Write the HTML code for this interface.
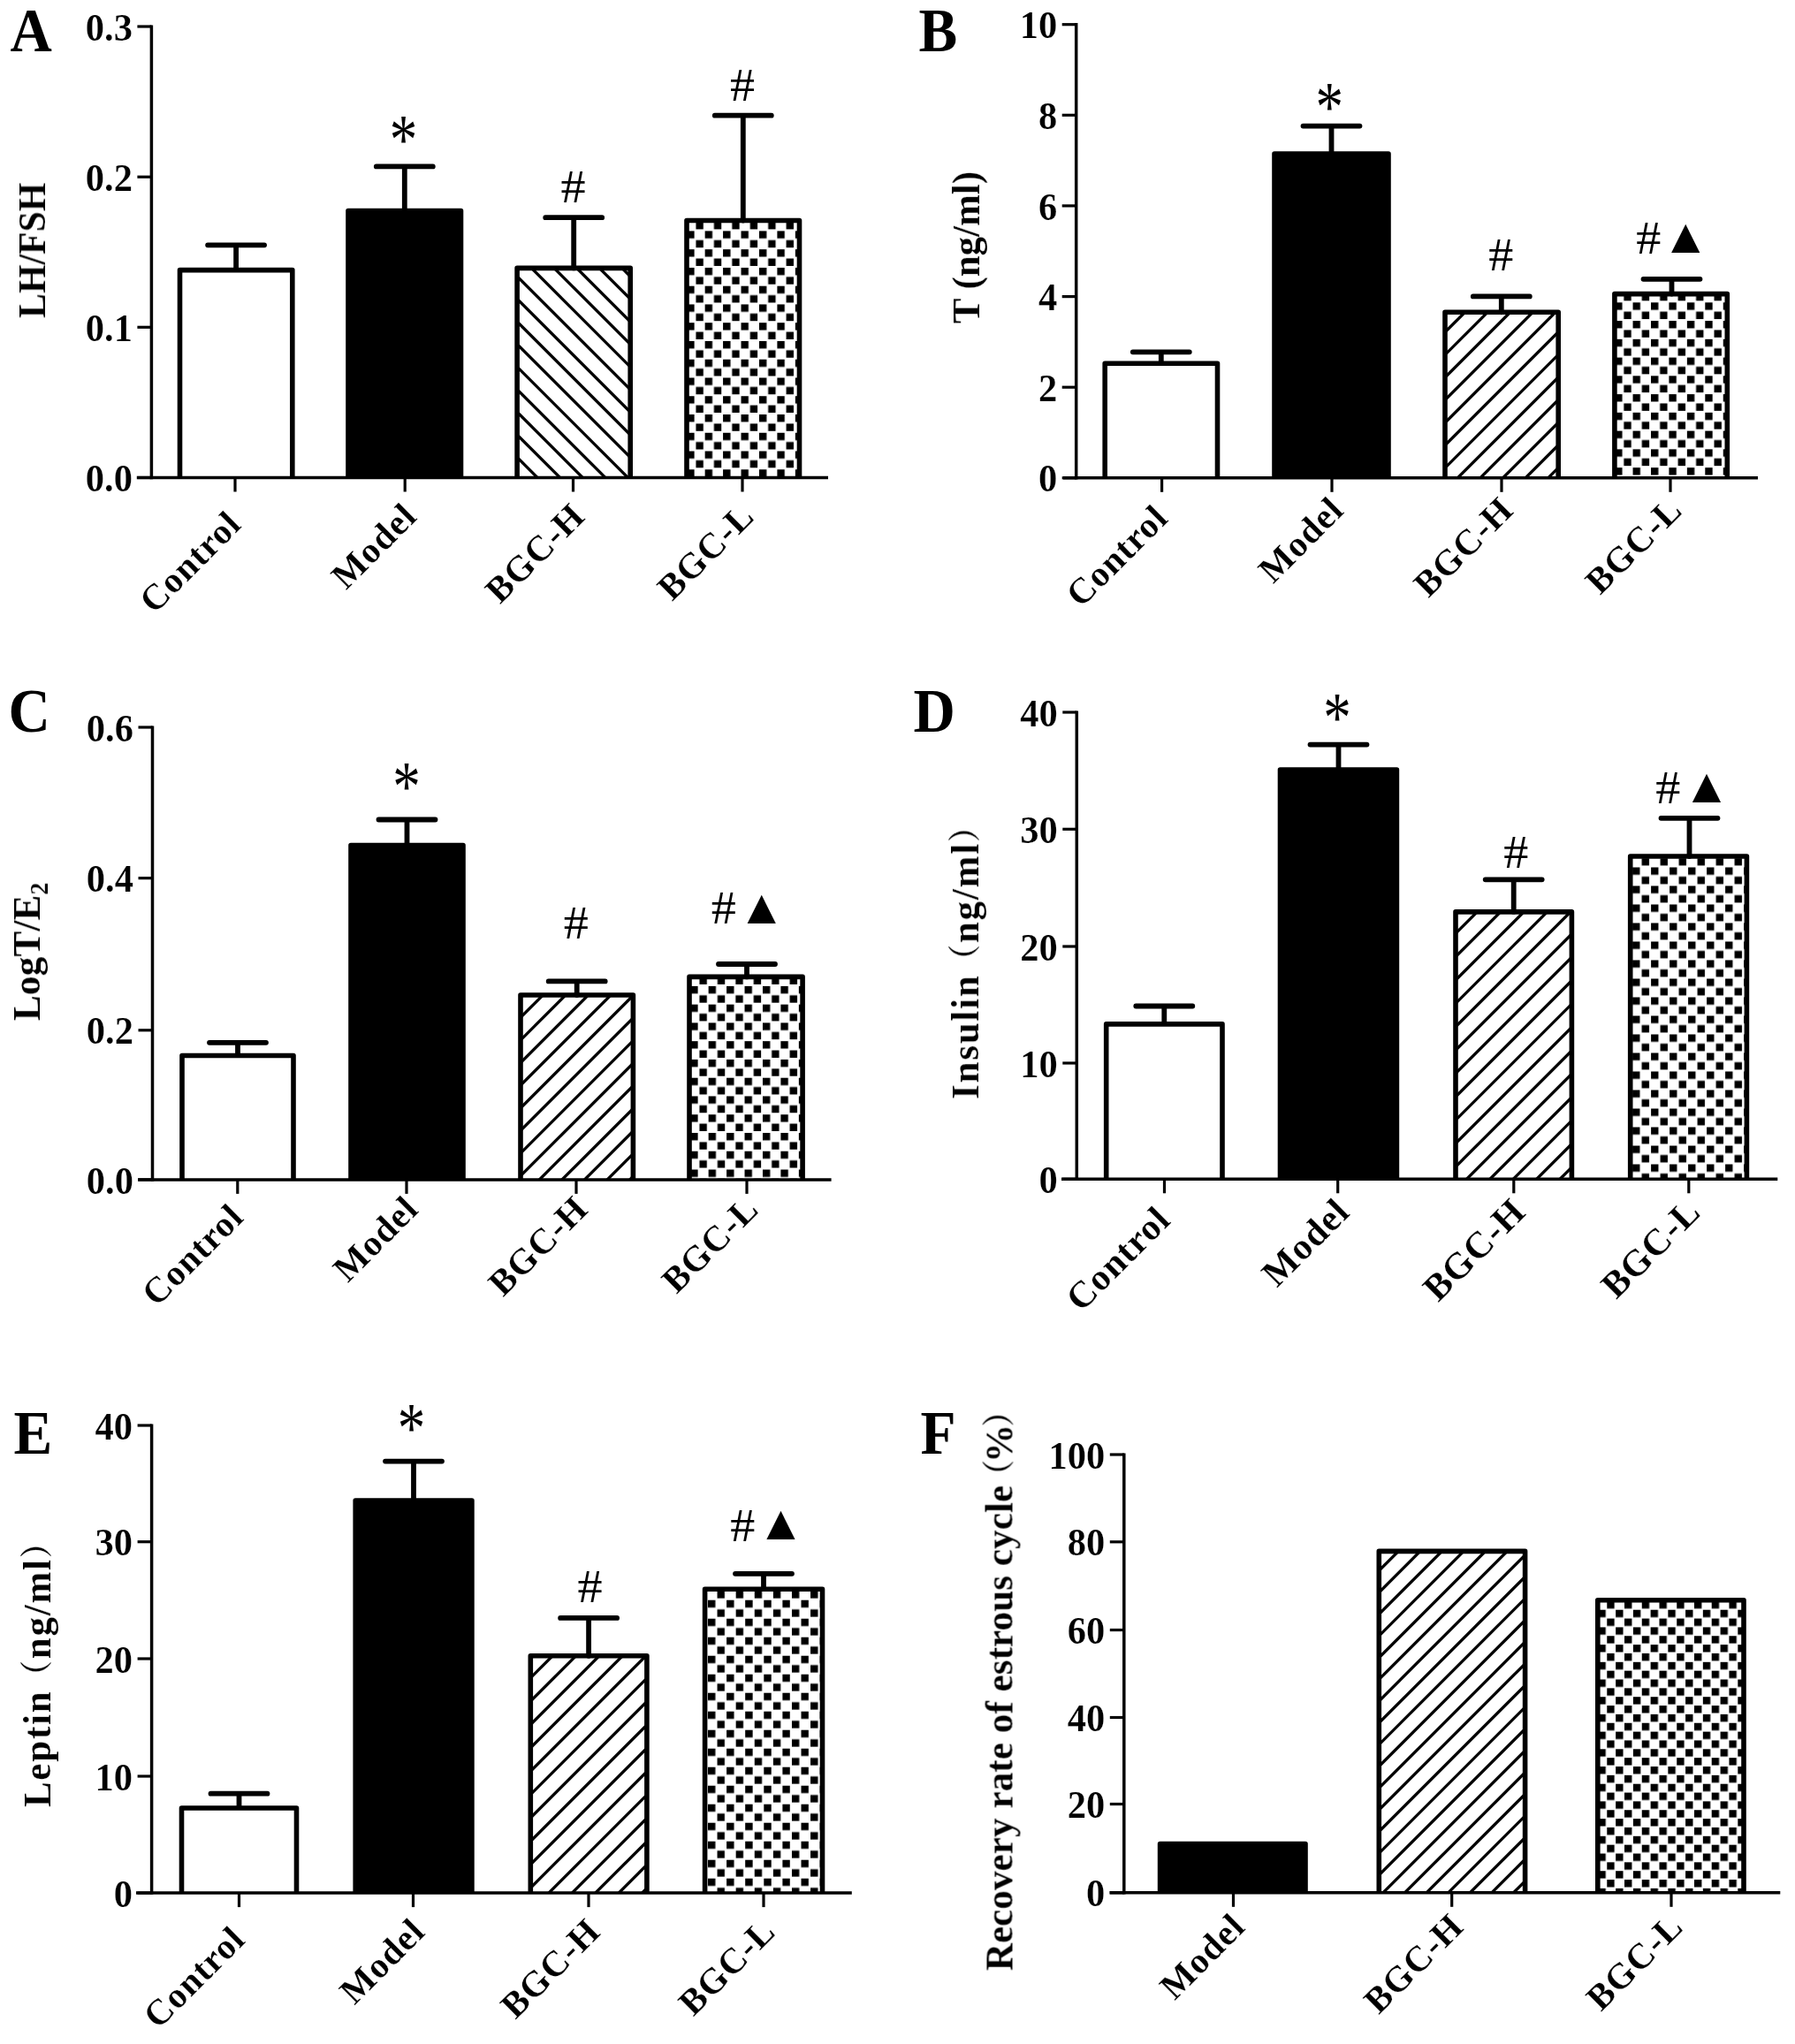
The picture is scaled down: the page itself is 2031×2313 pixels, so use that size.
<!DOCTYPE html>
<html lang="en"><head><meta charset="utf-8"><title>Figure</title>
<style>
html,body{margin:0;padding:0;background:#fff;}
body{width:2031px;height:2313px;overflow:hidden;}
svg{display:block;}
</style></head><body>
<svg width="2031" height="2313" viewBox="0 0 2031 2313" font-family='"Liberation Serif", "Noto Serif CJK SC", serif' fill="#000"><defs><filter id="soft" filterUnits="userSpaceOnUse" x="0" y="0" width="2031" height="2313"><feGaussianBlur stdDeviation="0.7"/></filter></defs><rect width="2031" height="2313" fill="#fff"/><g filter="url(#soft)"><g><text x="0" y="0" font-size="69" font-weight="bold" transform="translate(11.5 57.5) scale(0.95 1)">A</text><path d="M267.1 305.6V277.3M235.1 277.3H299.1" stroke="#000" stroke-width="5.80" stroke-linecap="round" fill="none"/><path d="M203.5 540.5V305.6H330.8V540.5" fill="#fff" stroke="#000" stroke-width="5.60" stroke-linejoin="round"/><path d="M457.8 238.5V188.4M425.8 188.4H489.8" stroke="#000" stroke-width="5.80" stroke-linecap="round" fill="none"/><path d="M394.0 540.5V238.5H521.5V540.5" fill="#000" stroke="#000" stroke-width="5.60" stroke-linejoin="round"/><path d="M649.2 303.4V246.2M617.2 246.2H681.2" stroke="#000" stroke-width="5.80" stroke-linecap="round" fill="none"/><clipPath id="c1"><rect x="585.1" y="303.4" width="128.1" height="237.1"/></clipPath><g clip-path="url(#c1)" stroke="#000" stroke-width="3.30"><line x1="580.1" y1="538.1" x2="718.2" y2="676.2"/><line x1="580.1" y1="512.5" x2="718.2" y2="650.6"/><line x1="580.1" y1="486.9" x2="718.2" y2="625.0"/><line x1="580.1" y1="461.3" x2="718.2" y2="599.4"/><line x1="580.1" y1="435.7" x2="718.2" y2="573.8"/><line x1="580.1" y1="410.1" x2="718.2" y2="548.2"/><line x1="580.1" y1="384.5" x2="718.2" y2="522.6"/><line x1="580.1" y1="358.9" x2="718.2" y2="497.0"/><line x1="580.1" y1="333.3" x2="718.2" y2="471.4"/><line x1="580.1" y1="307.7" x2="718.2" y2="445.8"/><line x1="580.1" y1="282.1" x2="718.2" y2="420.2"/><line x1="580.1" y1="256.5" x2="718.2" y2="394.6"/><line x1="580.1" y1="230.9" x2="718.2" y2="369.0"/><line x1="580.1" y1="205.3" x2="718.2" y2="343.4"/><line x1="580.1" y1="179.7" x2="718.2" y2="317.8"/><line x1="580.1" y1="154.1" x2="718.2" y2="292.2"/></g><path d="M585.1 540.5V303.4H713.2V540.5" fill="none" stroke="#000" stroke-width="5.60" stroke-linejoin="round"/><path d="M840.8 249.5V130.7M808.8 130.7H872.8" stroke="#000" stroke-width="5.80" stroke-linecap="round" fill="none"/><pattern id="p1" patternUnits="userSpaceOnUse" x="777.20" y="261.40" width="20.44" height="20.76"><rect x="0" y="0" width="8.40" height="8.40" fill="#000"/><rect x="10.22" y="10.38" width="8.40" height="8.40" fill="#000"/></pattern><rect x="777.0" y="249.5" width="127.5" height="291.0" fill="url(#p1)"/><path d="M777.0 540.5V249.5H904.5V540.5" fill="none" stroke="#000" stroke-width="5.60" stroke-linejoin="round"/><path d="M171.4 28.4V542.2" stroke="#000" stroke-width="3.50" fill="none"/><path d="M154.8 540.5H937.0" stroke="#000" stroke-width="3.50" fill="none"/><path d="M155.4 30.0H171.4" stroke="#000" stroke-width="3.20"/><text x="0" y="0" font-size="44.3" font-weight="bold" text-anchor="end" stroke="#fff" stroke-width="0.2" transform="translate(149.9 45.6) scale(0.96 1)">0.3</text><path d="M155.4 200.2H171.4" stroke="#000" stroke-width="3.20"/><text x="0" y="0" font-size="44.3" font-weight="bold" text-anchor="end" stroke="#fff" stroke-width="0.2" transform="translate(149.9 215.8) scale(0.96 1)">0.2</text><path d="M155.4 370.3H171.4" stroke="#000" stroke-width="3.20"/><text x="0" y="0" font-size="44.3" font-weight="bold" text-anchor="end" stroke="#fff" stroke-width="0.2" transform="translate(149.9 385.9) scale(0.96 1)">0.1</text><path d="M155.4 540.5H171.4" stroke="#000" stroke-width="3.20"/><text x="0" y="0" font-size="44.3" font-weight="bold" text-anchor="end" stroke="#fff" stroke-width="0.2" transform="translate(149.9 556.1) scale(0.96 1)">0.0</text><path d="M266.0 540.5V556.5" stroke="#000" stroke-width="3.20"/><text x="275.0" y="595.3" font-size="41" font-weight="bold" text-anchor="end" stroke="#fff" stroke-width="0.2" transform="rotate(-45 275.0 595.3)" letter-spacing="0.9">Control</text><path d="M458.2 540.5V556.5" stroke="#000" stroke-width="3.20"/><text x="473.7" y="586.3" font-size="41" font-weight="bold" text-anchor="end" stroke="#fff" stroke-width="0.2" transform="rotate(-45 473.7 586.3)" letter-spacing="0.9">Model</text><path d="M648.5 540.5V556.5" stroke="#000" stroke-width="3.20"/><text x="664.0" y="586.3" font-size="41" font-weight="bold" text-anchor="end" stroke="#fff" stroke-width="0.2" transform="rotate(-45 664.0 586.3)" letter-spacing="0.9">BGC-H</text><path d="M840.0 540.5V556.5" stroke="#000" stroke-width="3.20"/><text x="855.5" y="586.3" font-size="41" font-weight="bold" text-anchor="end" stroke="#fff" stroke-width="0.2" transform="rotate(-45 855.5 586.3)" letter-spacing="0.9">BGC-L</text><text x="0" y="0" font-size="45" font-weight="bold" text-anchor="middle" stroke="#fff" stroke-width="0.2" transform="translate(51.0 283.3) rotate(-90) scale(0.93 1)">LH/FSH</text><text x="0" y="0" font-size="63" font-weight="normal" text-anchor="middle" transform="translate(456.4 184.5) scale(1 1.28)">*</text><text x="648.5" y="229.2" font-size="53" font-weight="normal" text-anchor="middle" transform="translate(648.5 0) scale(1.06 1) translate(-648.5 0)">#</text><text x="840.0" y="114.2" font-size="53" font-weight="normal" text-anchor="middle" transform="translate(840.0 0) scale(1.06 1) translate(-840.0 0)">#</text></g>
<g><text x="0" y="0" font-size="69" font-weight="bold" transform="translate(1039.5 57.5) scale(0.95 1)">B</text><path d="M1313.8 411.3V398.3M1281.8 398.3H1345.8" stroke="#000" stroke-width="5.80" stroke-linecap="round" fill="none"/><path d="M1250.2 540.8V411.3H1377.5V540.8" fill="#fff" stroke="#000" stroke-width="5.60" stroke-linejoin="round"/><path d="M1506.5 174.0V142.6M1474.5 142.6H1538.5" stroke="#000" stroke-width="5.80" stroke-linecap="round" fill="none"/><path d="M1442.0 540.8V174.0H1571.0V540.8" fill="#000" stroke="#000" stroke-width="5.60" stroke-linejoin="round"/><path d="M1698.8 353.3V335.4M1666.8 335.4H1730.8" stroke="#000" stroke-width="5.80" stroke-linecap="round" fill="none"/><clipPath id="c2"><rect x="1635.0" y="353.3" width="128.2" height="187.5"/></clipPath><g clip-path="url(#c2)" stroke="#000" stroke-width="3.30"><line x1="1630.0" y1="355.3" x2="1768.2" y2="217.1"/><line x1="1630.0" y1="380.9" x2="1768.2" y2="242.7"/><line x1="1630.0" y1="406.5" x2="1768.2" y2="268.3"/><line x1="1630.0" y1="432.1" x2="1768.2" y2="293.9"/><line x1="1630.0" y1="457.7" x2="1768.2" y2="319.5"/><line x1="1630.0" y1="483.3" x2="1768.2" y2="345.1"/><line x1="1630.0" y1="508.9" x2="1768.2" y2="370.7"/><line x1="1630.0" y1="534.5" x2="1768.2" y2="396.3"/><line x1="1630.0" y1="560.1" x2="1768.2" y2="421.9"/><line x1="1630.0" y1="585.7" x2="1768.2" y2="447.5"/><line x1="1630.0" y1="611.3" x2="1768.2" y2="473.1"/><line x1="1630.0" y1="636.9" x2="1768.2" y2="498.7"/><line x1="1630.0" y1="662.5" x2="1768.2" y2="524.3"/><line x1="1630.0" y1="688.1" x2="1768.2" y2="549.9"/></g><path d="M1635.0 540.8V353.3H1763.2V540.8" fill="none" stroke="#000" stroke-width="5.60" stroke-linejoin="round"/><path d="M1891.5 332.6V315.8M1859.5 315.8H1923.5" stroke="#000" stroke-width="5.80" stroke-linecap="round" fill="none"/><pattern id="p2" patternUnits="userSpaceOnUse" x="1827.10" y="342.30" width="20.44" height="20.76"><rect x="0" y="0" width="8.40" height="8.40" fill="#000"/><rect x="10.22" y="10.38" width="8.40" height="8.40" fill="#000"/></pattern><rect x="1826.9" y="332.6" width="127.4" height="208.2" fill="url(#p2)"/><path d="M1826.9 540.8V332.6H1954.3V540.8" fill="none" stroke="#000" stroke-width="5.60" stroke-linejoin="round"/><path d="M1217.7 26.1V542.5" stroke="#000" stroke-width="3.50" fill="none"/><path d="M1203.0 540.8H1989.0" stroke="#000" stroke-width="3.50" fill="none"/><path d="M1201.7 27.7H1217.7" stroke="#000" stroke-width="3.20"/><text x="0" y="0" font-size="44.3" font-weight="bold" text-anchor="end" stroke="#fff" stroke-width="0.2" transform="translate(1196.2 43.3) scale(0.96 1)">10</text><path d="M1201.7 130.3H1217.7" stroke="#000" stroke-width="3.20"/><text x="0" y="0" font-size="44.3" font-weight="bold" text-anchor="end" stroke="#fff" stroke-width="0.2" transform="translate(1196.2 145.9) scale(0.96 1)">8</text><path d="M1201.7 232.9H1217.7" stroke="#000" stroke-width="3.20"/><text x="0" y="0" font-size="44.3" font-weight="bold" text-anchor="end" stroke="#fff" stroke-width="0.2" transform="translate(1196.2 248.5) scale(0.96 1)">6</text><path d="M1201.7 335.6H1217.7" stroke="#000" stroke-width="3.20"/><text x="0" y="0" font-size="44.3" font-weight="bold" text-anchor="end" stroke="#fff" stroke-width="0.2" transform="translate(1196.2 351.2) scale(0.96 1)">4</text><path d="M1201.7 438.2H1217.7" stroke="#000" stroke-width="3.20"/><text x="0" y="0" font-size="44.3" font-weight="bold" text-anchor="end" stroke="#fff" stroke-width="0.2" transform="translate(1196.2 453.8) scale(0.96 1)">2</text><path d="M1201.7 540.8H1217.7" stroke="#000" stroke-width="3.20"/><text x="0" y="0" font-size="44.3" font-weight="bold" text-anchor="end" stroke="#fff" stroke-width="0.2" transform="translate(1196.2 556.4) scale(0.96 1)">0</text><path d="M1314.6 540.8V556.8" stroke="#000" stroke-width="3.20"/><text x="1323.6" y="588.3" font-size="41" font-weight="bold" text-anchor="end" stroke="#fff" stroke-width="0.2" transform="rotate(-45 1323.6 588.3)" letter-spacing="0.9">Control</text><path d="M1507.0 540.8V556.8" stroke="#000" stroke-width="3.20"/><text x="1522.5" y="579.3" font-size="41" font-weight="bold" text-anchor="end" stroke="#fff" stroke-width="0.2" transform="rotate(-45 1522.5 579.3)" letter-spacing="0.9">Model</text><path d="M1699.0 540.8V556.8" stroke="#000" stroke-width="3.20"/><text x="1714.5" y="579.3" font-size="41" font-weight="bold" text-anchor="end" stroke="#fff" stroke-width="0.2" transform="rotate(-45 1714.5 579.3)" letter-spacing="0.9">BGC-H</text><path d="M1890.0 540.8V556.8" stroke="#000" stroke-width="3.20"/><text x="1905.5" y="579.3" font-size="41" font-weight="bold" text-anchor="end" stroke="#fff" stroke-width="0.2" transform="rotate(-45 1905.5 579.3)" letter-spacing="0.9">BGC-L</text><text x="0" y="0" font-size="45" font-weight="bold" text-anchor="middle" stroke="#fff" stroke-width="0.2" transform="translate(1108.0 280.0) rotate(-90) scale(0.955 1)">T (ng/ml)</text><text x="0" y="0" font-size="63" font-weight="normal" text-anchor="middle" transform="translate(1504.3 148.4) scale(1 1.28)">*</text><text x="1698.3" y="305.7" font-size="53" font-weight="normal" text-anchor="middle" transform="translate(1698.3 0) scale(1.06 1) translate(-1698.3 0)">#</text><text x="1865.2" y="286.8" font-size="53" font-weight="normal" text-anchor="middle" transform="translate(1865.2 0) scale(1.06 1) translate(-1865.2 0)">#</text><text x="1907.3" y="286.1" font-size="55" font-weight="normal" text-anchor="middle">▲</text></g>
<g><text x="0" y="0" font-size="69" font-weight="bold" transform="translate(9.5 827.5) scale(0.95 1)">C</text><path d="M269.0 1194.5V1179.8M237.0 1179.8H301.0" stroke="#000" stroke-width="5.80" stroke-linecap="round" fill="none"/><path d="M206.0 1334.9V1194.5H332.0V1334.9" fill="#fff" stroke="#000" stroke-width="5.60" stroke-linejoin="round"/><path d="M460.5 956.5V927.5M428.5 927.5H492.5" stroke="#000" stroke-width="5.80" stroke-linecap="round" fill="none"/><path d="M397.0 1334.9V956.5H524.0V1334.9" fill="#000" stroke="#000" stroke-width="5.60" stroke-linejoin="round"/><path d="M652.7 1126.0V1110.4M620.7 1110.4H684.7" stroke="#000" stroke-width="5.80" stroke-linecap="round" fill="none"/><clipPath id="c3"><rect x="589.0" y="1126.0" width="127.4" height="208.9"/></clipPath><g clip-path="url(#c3)" stroke="#000" stroke-width="3.30"><line x1="584.0" y1="1130.8" x2="721.4" y2="993.4"/><line x1="584.0" y1="1156.4" x2="721.4" y2="1019.0"/><line x1="584.0" y1="1182.0" x2="721.4" y2="1044.6"/><line x1="584.0" y1="1207.6" x2="721.4" y2="1070.2"/><line x1="584.0" y1="1233.2" x2="721.4" y2="1095.8"/><line x1="584.0" y1="1258.8" x2="721.4" y2="1121.4"/><line x1="584.0" y1="1284.4" x2="721.4" y2="1147.0"/><line x1="584.0" y1="1310.0" x2="721.4" y2="1172.6"/><line x1="584.0" y1="1335.6" x2="721.4" y2="1198.2"/><line x1="584.0" y1="1361.2" x2="721.4" y2="1223.8"/><line x1="584.0" y1="1386.8" x2="721.4" y2="1249.4"/><line x1="584.0" y1="1412.4" x2="721.4" y2="1275.0"/><line x1="584.0" y1="1438.0" x2="721.4" y2="1300.6"/><line x1="584.0" y1="1463.6" x2="721.4" y2="1326.2"/><line x1="584.0" y1="1489.2" x2="721.4" y2="1351.8"/></g><path d="M589.0 1334.9V1126.0H716.4V1334.9" fill="none" stroke="#000" stroke-width="5.60" stroke-linejoin="round"/><path d="M845.0 1105.4V1091.0M813.0 1091.0H877.0" stroke="#000" stroke-width="5.80" stroke-linecap="round" fill="none"/><pattern id="p3" patternUnits="userSpaceOnUse" x="781.20" y="1115.90" width="20.44" height="20.76"><rect x="0" y="0" width="8.40" height="8.40" fill="#000"/><rect x="10.22" y="10.38" width="8.40" height="8.40" fill="#000"/></pattern><rect x="780.0" y="1105.4" width="128.1" height="229.5" fill="url(#p3)"/><path d="M780.0 1334.9V1105.4H908.1V1334.9" fill="none" stroke="#000" stroke-width="5.60" stroke-linejoin="round"/><path d="M172.5 821.4V1336.7" stroke="#000" stroke-width="3.50" fill="none"/><path d="M156.0 1334.9H940.6" stroke="#000" stroke-width="3.50" fill="none"/><path d="M156.5 823.0H172.5" stroke="#000" stroke-width="3.20"/><text x="0" y="0" font-size="44.3" font-weight="bold" text-anchor="end" stroke="#fff" stroke-width="0.2" transform="translate(151.0 838.6) scale(0.96 1)">0.6</text><path d="M156.5 993.7H172.5" stroke="#000" stroke-width="3.20"/><text x="0" y="0" font-size="44.3" font-weight="bold" text-anchor="end" stroke="#fff" stroke-width="0.2" transform="translate(151.0 1009.3) scale(0.96 1)">0.4</text><path d="M156.5 1165.8H172.5" stroke="#000" stroke-width="3.20"/><text x="0" y="0" font-size="44.3" font-weight="bold" text-anchor="end" stroke="#fff" stroke-width="0.2" transform="translate(151.0 1181.4) scale(0.96 1)">0.2</text><path d="M156.5 1334.9H172.5" stroke="#000" stroke-width="3.20"/><text x="0" y="0" font-size="44.3" font-weight="bold" text-anchor="end" stroke="#fff" stroke-width="0.2" transform="translate(151.0 1350.5) scale(0.96 1)">0.0</text><path d="M268.8 1334.9V1350.9" stroke="#000" stroke-width="3.20"/><text x="277.8" y="1379.3" font-size="41" font-weight="bold" text-anchor="end" stroke="#fff" stroke-width="0.2" transform="rotate(-45 277.8 1379.3)" letter-spacing="0.9">Control</text><path d="M460.0 1334.9V1350.9" stroke="#000" stroke-width="3.20"/><text x="475.5" y="1370.3" font-size="41" font-weight="bold" text-anchor="end" stroke="#fff" stroke-width="0.2" transform="rotate(-45 475.5 1370.3)" letter-spacing="0.9">Model</text><path d="M652.0 1334.9V1350.9" stroke="#000" stroke-width="3.20"/><text x="667.5" y="1370.3" font-size="41" font-weight="bold" text-anchor="end" stroke="#fff" stroke-width="0.2" transform="rotate(-45 667.5 1370.3)" letter-spacing="0.9">BGC-H</text><path d="M845.0 1334.9V1350.9" stroke="#000" stroke-width="3.20"/><text x="860.5" y="1370.3" font-size="41" font-weight="bold" text-anchor="end" stroke="#fff" stroke-width="0.2" transform="rotate(-45 860.5 1370.3)" letter-spacing="0.9">BGC-L</text><text x="0" y="0" font-size="45" font-weight="bold" text-anchor="middle" stroke="#fff" stroke-width="0.2" transform="translate(45.0 1077.0) rotate(-90) scale(0.966 1)">LogT/E<tspan font-size="29" dy="9">2</tspan></text><text x="0" y="0" font-size="63" font-weight="normal" text-anchor="middle" transform="translate(460.0 917.4) scale(1 1.28)">*</text><text x="651.8" y="1061.8" font-size="53" font-weight="normal" text-anchor="middle" transform="translate(651.8 0) scale(1.06 1) translate(-651.8 0)">#</text><text x="818.7" y="1044.8" font-size="53" font-weight="normal" text-anchor="middle" transform="translate(818.7 0) scale(1.06 1) translate(-818.7 0)">#</text><text x="861.7" y="1044.8" font-size="55" font-weight="normal" text-anchor="middle">▲</text></g>
<g><text x="0" y="0" font-size="69" font-weight="bold" transform="translate(1033.5 828.0) scale(0.95 1)">D</text><path d="M1317.3 1158.9V1138.5M1285.3 1138.5H1349.3" stroke="#000" stroke-width="5.80" stroke-linecap="round" fill="none"/><path d="M1251.7 1334.3V1158.9H1383.0V1334.3" fill="#fff" stroke="#000" stroke-width="5.60" stroke-linejoin="round"/><path d="M1514.5 871.0V842.6M1482.5 842.6H1546.5" stroke="#000" stroke-width="5.80" stroke-linecap="round" fill="none"/><path d="M1448.5 1334.3V871.0H1580.4V1334.3" fill="#000" stroke="#000" stroke-width="5.60" stroke-linejoin="round"/><path d="M1712.7 1031.9V995.3M1680.7 995.3H1744.7" stroke="#000" stroke-width="5.80" stroke-linecap="round" fill="none"/><clipPath id="c4"><rect x="1647.0" y="1031.9" width="131.4" height="302.4"/></clipPath><g clip-path="url(#c4)" stroke="#000" stroke-width="3.30"><line x1="1642.0" y1="1034.9" x2="1783.4" y2="893.5"/><line x1="1642.0" y1="1061.3" x2="1783.4" y2="919.9"/><line x1="1642.0" y1="1087.7" x2="1783.4" y2="946.3"/><line x1="1642.0" y1="1114.1" x2="1783.4" y2="972.7"/><line x1="1642.0" y1="1140.5" x2="1783.4" y2="999.1"/><line x1="1642.0" y1="1166.9" x2="1783.4" y2="1025.5"/><line x1="1642.0" y1="1193.3" x2="1783.4" y2="1051.9"/><line x1="1642.0" y1="1219.7" x2="1783.4" y2="1078.3"/><line x1="1642.0" y1="1246.1" x2="1783.4" y2="1104.7"/><line x1="1642.0" y1="1272.5" x2="1783.4" y2="1131.1"/><line x1="1642.0" y1="1298.9" x2="1783.4" y2="1157.5"/><line x1="1642.0" y1="1325.3" x2="1783.4" y2="1183.9"/><line x1="1642.0" y1="1351.7" x2="1783.4" y2="1210.3"/><line x1="1642.0" y1="1378.1" x2="1783.4" y2="1236.7"/><line x1="1642.0" y1="1404.5" x2="1783.4" y2="1263.1"/><line x1="1642.0" y1="1430.9" x2="1783.4" y2="1289.5"/><line x1="1642.0" y1="1457.3" x2="1783.4" y2="1315.9"/><line x1="1642.0" y1="1483.7" x2="1783.4" y2="1342.3"/></g><path d="M1647.0 1334.3V1031.9H1778.4V1334.3" fill="none" stroke="#000" stroke-width="5.60" stroke-linejoin="round"/><path d="M1911.5 969.0V925.8M1879.5 925.8H1943.5" stroke="#000" stroke-width="5.80" stroke-linecap="round" fill="none"/><pattern id="p4" patternUnits="userSpaceOnUse" x="1847.10" y="981.50" width="21.00" height="21.00"><rect x="0" y="0" width="8.40" height="8.40" fill="#000"/><rect x="10.50" y="10.50" width="8.40" height="8.40" fill="#000"/></pattern><rect x="1844.7" y="969.0" width="131.7" height="365.3" fill="url(#p4)"/><path d="M1844.7 1334.3V969.0H1976.4V1334.3" fill="none" stroke="#000" stroke-width="5.60" stroke-linejoin="round"/><path d="M1218.3 804.4V1336.0" stroke="#000" stroke-width="3.50" fill="none"/><path d="M1201.0 1334.3H2011.3" stroke="#000" stroke-width="3.50" fill="none"/><path d="M1202.3 806.0H1218.3" stroke="#000" stroke-width="3.20"/><text x="0" y="0" font-size="44.3" font-weight="bold" text-anchor="end" stroke="#fff" stroke-width="0.2" transform="translate(1196.8 821.6) scale(0.96 1)">40</text><path d="M1202.3 938.3H1218.3" stroke="#000" stroke-width="3.20"/><text x="0" y="0" font-size="44.3" font-weight="bold" text-anchor="end" stroke="#fff" stroke-width="0.2" transform="translate(1196.8 953.9) scale(0.96 1)">30</text><path d="M1202.3 1071.0H1218.3" stroke="#000" stroke-width="3.20"/><text x="0" y="0" font-size="44.3" font-weight="bold" text-anchor="end" stroke="#fff" stroke-width="0.2" transform="translate(1196.8 1086.6) scale(0.96 1)">20</text><path d="M1202.3 1203.0H1218.3" stroke="#000" stroke-width="3.20"/><text x="0" y="0" font-size="44.3" font-weight="bold" text-anchor="end" stroke="#fff" stroke-width="0.2" transform="translate(1196.8 1218.6) scale(0.96 1)">10</text><path d="M1202.3 1334.3H1218.3" stroke="#000" stroke-width="3.20"/><text x="0" y="0" font-size="44.3" font-weight="bold" text-anchor="end" stroke="#fff" stroke-width="0.2" transform="translate(1196.8 1349.9) scale(0.96 1)">0</text><path d="M1317.5 1334.3V1350.3" stroke="#000" stroke-width="3.20"/><text x="1326.5" y="1382.5" font-size="42.2" font-weight="bold" text-anchor="end" stroke="#fff" stroke-width="0.2" transform="rotate(-45 1326.5 1382.5)" letter-spacing="0.9">Control</text><path d="M1513.7 1334.3V1350.3" stroke="#000" stroke-width="3.20"/><text x="1529.2" y="1373.5" font-size="42.2" font-weight="bold" text-anchor="end" stroke="#fff" stroke-width="0.2" transform="rotate(-45 1529.2 1373.5)" letter-spacing="0.9">Model</text><path d="M1712.8 1334.3V1350.3" stroke="#000" stroke-width="3.20"/><text x="1728.3" y="1373.5" font-size="42.2" font-weight="bold" text-anchor="end" stroke="#fff" stroke-width="0.2" transform="rotate(-45 1728.3 1373.5)" letter-spacing="0.9">BGC-H</text><path d="M1910.8 1334.3V1350.3" stroke="#000" stroke-width="3.20"/><text x="1926.3" y="1373.5" font-size="42.2" font-weight="bold" text-anchor="end" stroke="#fff" stroke-width="0.2" transform="rotate(-45 1926.3 1373.5)" letter-spacing="0.9">BGC-L</text><text x="0" y="0" font-size="45" font-weight="bold" text-anchor="middle" stroke="#fff" stroke-width="0.2" transform="translate(1107.0 1080.0) rotate(-90) scale(0.955 1)" letter-spacing="1.9">Insulin<tspan dx="-2" dy="-2" font-size="37">（</tspan><tspan dy="2">ng/ml</tspan><tspan dy="-2" font-size="37">）</tspan></text><text x="0" y="0" font-size="63" font-weight="normal" text-anchor="middle" transform="translate(1512.9 839.2) scale(1 1.28)">*</text><text x="1715.4" y="982.4" font-size="53" font-weight="normal" text-anchor="middle" transform="translate(1715.4 0) scale(1.06 1) translate(-1715.4 0)">#</text><text x="1887.3" y="909.4" font-size="53" font-weight="normal" text-anchor="middle" transform="translate(1887.3 0) scale(1.06 1) translate(-1887.3 0)">#</text><text x="1930.9" y="908.2" font-size="55" font-weight="normal" text-anchor="middle">▲</text></g>
<g><text x="0" y="0" font-size="69" font-weight="bold" transform="translate(15.5 1644.7) scale(0.95 1)">E</text><path d="M270.5 2046.0V2029.7M238.5 2029.7H302.5" stroke="#000" stroke-width="5.80" stroke-linecap="round" fill="none"/><path d="M205.5 2142.1V2046.0H335.5V2142.1" fill="#fff" stroke="#000" stroke-width="5.60" stroke-linejoin="round"/><path d="M468.0 1698.0V1653.6M436.0 1653.6H500.0" stroke="#000" stroke-width="5.80" stroke-linecap="round" fill="none"/><path d="M402.2 2142.1V1698.0H533.9V2142.1" fill="#000" stroke="#000" stroke-width="5.60" stroke-linejoin="round"/><path d="M666.1 1873.8V1830.9M634.1 1830.9H698.1" stroke="#000" stroke-width="5.80" stroke-linecap="round" fill="none"/><clipPath id="c5"><rect x="600.3" y="1873.8" width="131.6" height="268.3"/></clipPath><g clip-path="url(#c5)" stroke="#000" stroke-width="3.30"><line x1="595.3" y1="1877.3" x2="736.9" y2="1735.7"/><line x1="595.3" y1="1903.7" x2="736.9" y2="1762.1"/><line x1="595.3" y1="1930.1" x2="736.9" y2="1788.5"/><line x1="595.3" y1="1956.5" x2="736.9" y2="1814.9"/><line x1="595.3" y1="1982.9" x2="736.9" y2="1841.3"/><line x1="595.3" y1="2009.3" x2="736.9" y2="1867.7"/><line x1="595.3" y1="2035.7" x2="736.9" y2="1894.1"/><line x1="595.3" y1="2062.1" x2="736.9" y2="1920.5"/><line x1="595.3" y1="2088.5" x2="736.9" y2="1946.9"/><line x1="595.3" y1="2114.9" x2="736.9" y2="1973.3"/><line x1="595.3" y1="2141.3" x2="736.9" y2="1999.7"/><line x1="595.3" y1="2167.7" x2="736.9" y2="2026.1"/><line x1="595.3" y1="2194.1" x2="736.9" y2="2052.5"/><line x1="595.3" y1="2220.5" x2="736.9" y2="2078.9"/><line x1="595.3" y1="2246.9" x2="736.9" y2="2105.3"/><line x1="595.3" y1="2273.3" x2="736.9" y2="2131.7"/><line x1="595.3" y1="2299.7" x2="736.9" y2="2158.1"/></g><path d="M600.3 2142.1V1873.8H731.9V2142.1" fill="none" stroke="#000" stroke-width="5.60" stroke-linejoin="round"/><path d="M864.0 1798.2V1780.8M832.0 1780.8H896.0" stroke="#000" stroke-width="5.80" stroke-linecap="round" fill="none"/><pattern id="p5" patternUnits="userSpaceOnUse" x="801.00" y="1810.70" width="21.10" height="21.00"><rect x="0" y="0" width="8.40" height="8.40" fill="#000"/><rect x="10.55" y="10.50" width="8.40" height="8.40" fill="#000"/></pattern><rect x="797.6" y="1798.2" width="132.9" height="343.9" fill="url(#p5)"/><path d="M797.6 2142.1V1798.2H930.5V2142.1" fill="none" stroke="#000" stroke-width="5.60" stroke-linejoin="round"/><path d="M171.6 1611.4V2143.8" stroke="#000" stroke-width="3.50" fill="none"/><path d="M154.0 2142.1H963.8" stroke="#000" stroke-width="3.50" fill="none"/><path d="M155.6 1613.0H171.6" stroke="#000" stroke-width="3.20"/><text x="0" y="0" font-size="44.3" font-weight="bold" text-anchor="end" stroke="#fff" stroke-width="0.2" transform="translate(150.1 1628.6) scale(0.96 1)">40</text><path d="M155.6 1744.7H171.6" stroke="#000" stroke-width="3.20"/><text x="0" y="0" font-size="44.3" font-weight="bold" text-anchor="end" stroke="#fff" stroke-width="0.2" transform="translate(150.1 1760.3) scale(0.96 1)">30</text><path d="M155.6 1877.0H171.6" stroke="#000" stroke-width="3.20"/><text x="0" y="0" font-size="44.3" font-weight="bold" text-anchor="end" stroke="#fff" stroke-width="0.2" transform="translate(150.1 1892.6) scale(0.96 1)">20</text><path d="M155.6 2010.0H171.6" stroke="#000" stroke-width="3.20"/><text x="0" y="0" font-size="44.3" font-weight="bold" text-anchor="end" stroke="#fff" stroke-width="0.2" transform="translate(150.1 2025.6) scale(0.96 1)">10</text><path d="M155.6 2142.1H171.6" stroke="#000" stroke-width="3.20"/><text x="0" y="0" font-size="44.3" font-weight="bold" text-anchor="end" stroke="#fff" stroke-width="0.2" transform="translate(150.1 2157.7) scale(0.96 1)">0</text><path d="M270.5 2142.1V2158.1" stroke="#000" stroke-width="3.20"/><text x="279.5" y="2196.7" font-size="41" font-weight="bold" text-anchor="end" stroke="#fff" stroke-width="0.2" transform="rotate(-45 279.5 2196.7)" letter-spacing="0.9">Control</text><path d="M467.5 2142.1V2158.1" stroke="#000" stroke-width="3.20"/><text x="483.0" y="2187.7" font-size="41" font-weight="bold" text-anchor="end" stroke="#fff" stroke-width="0.2" transform="rotate(-45 483.0 2187.7)" letter-spacing="0.9">Model</text><path d="M666.0 2142.1V2158.1" stroke="#000" stroke-width="3.20"/><text x="681.5" y="2187.7" font-size="41" font-weight="bold" text-anchor="end" stroke="#fff" stroke-width="0.2" transform="rotate(-45 681.5 2187.7)" letter-spacing="0.9">BGC-H</text><path d="M864.0 2142.1V2158.1" stroke="#000" stroke-width="3.20"/><text x="879.5" y="2187.7" font-size="41" font-weight="bold" text-anchor="end" stroke="#fff" stroke-width="0.2" transform="rotate(-45 879.5 2187.7)" letter-spacing="0.9">BGC-L</text><text x="0" y="0" font-size="45" font-weight="bold" text-anchor="middle" stroke="#fff" stroke-width="0.2" transform="translate(57.0 1885.5) rotate(-90) scale(0.955 1)" letter-spacing="1.9">Leptin<tspan dx="-2" dy="-2" font-size="37">（</tspan><tspan dy="2">ng/ml</tspan><tspan dy="-2" font-size="37">）</tspan></text><text x="0" y="0" font-size="63" font-weight="normal" text-anchor="middle" transform="translate(465.4 1642.9) scale(1 1.28)">*</text><text x="667.6" y="1812.8" font-size="53" font-weight="normal" text-anchor="middle" transform="translate(667.6 0) scale(1.06 1) translate(-667.6 0)">#</text><text x="840.4" y="1743.6" font-size="53" font-weight="normal" text-anchor="middle" transform="translate(840.4 0) scale(1.06 1) translate(-840.4 0)">#</text><text x="883.4" y="1742.4" font-size="55" font-weight="normal" text-anchor="middle">▲</text></g>
<g><text x="0" y="0" font-size="69" font-weight="bold" transform="translate(1041.5 1644.7) scale(0.95 1)">F</text><path d="M1312.6 2141.8V2086.5H1477.0V2141.8" fill="#000" stroke="#000" stroke-width="5.60" stroke-linejoin="round"/><clipPath id="c6"><rect x="1560.3" y="1755.4" width="165.3" height="386.4"/></clipPath><g clip-path="url(#c6)" stroke="#000" stroke-width="3.30"><line x1="1555.3" y1="1757.8" x2="1730.6" y2="1582.5"/><line x1="1555.3" y1="1782.4" x2="1730.6" y2="1607.1"/><line x1="1555.3" y1="1807.0" x2="1730.6" y2="1631.7"/><line x1="1555.3" y1="1831.6" x2="1730.6" y2="1656.3"/><line x1="1555.3" y1="1856.2" x2="1730.6" y2="1680.9"/><line x1="1555.3" y1="1880.8" x2="1730.6" y2="1705.5"/><line x1="1555.3" y1="1905.4" x2="1730.6" y2="1730.1"/><line x1="1555.3" y1="1930.0" x2="1730.6" y2="1754.7"/><line x1="1555.3" y1="1954.6" x2="1730.6" y2="1779.3"/><line x1="1555.3" y1="1979.2" x2="1730.6" y2="1803.9"/><line x1="1555.3" y1="2003.8" x2="1730.6" y2="1828.5"/><line x1="1555.3" y1="2028.4" x2="1730.6" y2="1853.1"/><line x1="1555.3" y1="2053.0" x2="1730.6" y2="1877.7"/><line x1="1555.3" y1="2077.6" x2="1730.6" y2="1902.3"/><line x1="1555.3" y1="2102.2" x2="1730.6" y2="1926.9"/><line x1="1555.3" y1="2126.8" x2="1730.6" y2="1951.5"/><line x1="1555.3" y1="2151.4" x2="1730.6" y2="1976.1"/><line x1="1555.3" y1="2176.0" x2="1730.6" y2="2000.7"/><line x1="1555.3" y1="2200.6" x2="1730.6" y2="2025.3"/><line x1="1555.3" y1="2225.2" x2="1730.6" y2="2049.9"/><line x1="1555.3" y1="2249.8" x2="1730.6" y2="2074.5"/><line x1="1555.3" y1="2274.4" x2="1730.6" y2="2099.1"/><line x1="1555.3" y1="2299.0" x2="1730.6" y2="2123.7"/><line x1="1555.3" y1="2323.6" x2="1730.6" y2="2148.3"/></g><path d="M1560.3 2141.8V1755.4H1725.6V2141.8" fill="none" stroke="#000" stroke-width="5.60" stroke-linejoin="round"/><pattern id="p6" patternUnits="userSpaceOnUse" x="1808.40" y="1821.70" width="19.74" height="19.70"><rect x="0" y="0" width="8.40" height="8.40" fill="#000"/><rect x="9.87" y="9.85" width="8.40" height="8.40" fill="#000"/></pattern><rect x="1807.8" y="1810.8" width="165.2" height="331.0" fill="url(#p6)"/><path d="M1807.8 2141.8V1810.8H1973.0V2141.8" fill="none" stroke="#000" stroke-width="5.60" stroke-linejoin="round"/><path d="M1271.8 1644.4V2143.6" stroke="#000" stroke-width="3.50" fill="none"/><path d="M1255.5 2141.8H2014.3" stroke="#000" stroke-width="3.50" fill="none"/><path d="M1255.8 1646.0H1271.8" stroke="#000" stroke-width="3.20"/><text x="0" y="0" font-size="44.3" font-weight="bold" text-anchor="end" stroke="#fff" stroke-width="0.2" transform="translate(1250.3 1661.6) scale(0.96 1)">100</text><path d="M1255.8 1744.8H1271.8" stroke="#000" stroke-width="3.20"/><text x="0" y="0" font-size="44.3" font-weight="bold" text-anchor="end" stroke="#fff" stroke-width="0.2" transform="translate(1250.3 1760.4) scale(0.96 1)">80</text><path d="M1255.8 1844.5H1271.8" stroke="#000" stroke-width="3.20"/><text x="0" y="0" font-size="44.3" font-weight="bold" text-anchor="end" stroke="#fff" stroke-width="0.2" transform="translate(1250.3 1860.1) scale(0.96 1)">60</text><path d="M1255.8 1943.5H1271.8" stroke="#000" stroke-width="3.20"/><text x="0" y="0" font-size="44.3" font-weight="bold" text-anchor="end" stroke="#fff" stroke-width="0.2" transform="translate(1250.3 1959.1) scale(0.96 1)">40</text><path d="M1255.8 2041.5H1271.8" stroke="#000" stroke-width="3.20"/><text x="0" y="0" font-size="44.3" font-weight="bold" text-anchor="end" stroke="#fff" stroke-width="0.2" transform="translate(1250.3 2057.1) scale(0.96 1)">20</text><path d="M1255.8 2141.8H1271.8" stroke="#000" stroke-width="3.20"/><text x="0" y="0" font-size="44.3" font-weight="bold" text-anchor="end" stroke="#fff" stroke-width="0.2" transform="translate(1250.3 2157.4) scale(0.96 1)">0</text><path d="M1395.5 2141.8V2157.8" stroke="#000" stroke-width="3.20"/><text x="1411.0" y="2182.3" font-size="41" font-weight="bold" text-anchor="end" stroke="#fff" stroke-width="0.2" transform="rotate(-45 1411.0 2182.3)" letter-spacing="0.9">Model</text><path d="M1642.7 2141.8V2157.8" stroke="#000" stroke-width="3.20"/><text x="1658.2" y="2182.3" font-size="41" font-weight="bold" text-anchor="end" stroke="#fff" stroke-width="0.2" transform="rotate(-45 1658.2 2182.3)" letter-spacing="0.9">BGC-H</text><path d="M1891.0 2141.8V2157.8" stroke="#000" stroke-width="3.20"/><text x="1906.5" y="2182.3" font-size="41" font-weight="bold" text-anchor="end" stroke="#fff" stroke-width="0.2" transform="rotate(-45 1906.5 2182.3)" letter-spacing="0.9">BGC-L</text><text x="0" y="0" font-size="45" font-weight="bold" text-anchor="middle" stroke="#fff" stroke-width="0.2" transform="translate(1145.5 1904.6) rotate(-90) scale(0.962 1)">Recovery rate of estrous cycle<tspan dx="-7" dy="-2" font-size="37">（</tspan><tspan dx="-3" dy="2">%</tspan><tspan dx="-3" dy="-2" font-size="37">）</tspan></text></g></g></svg>
</body></html>
